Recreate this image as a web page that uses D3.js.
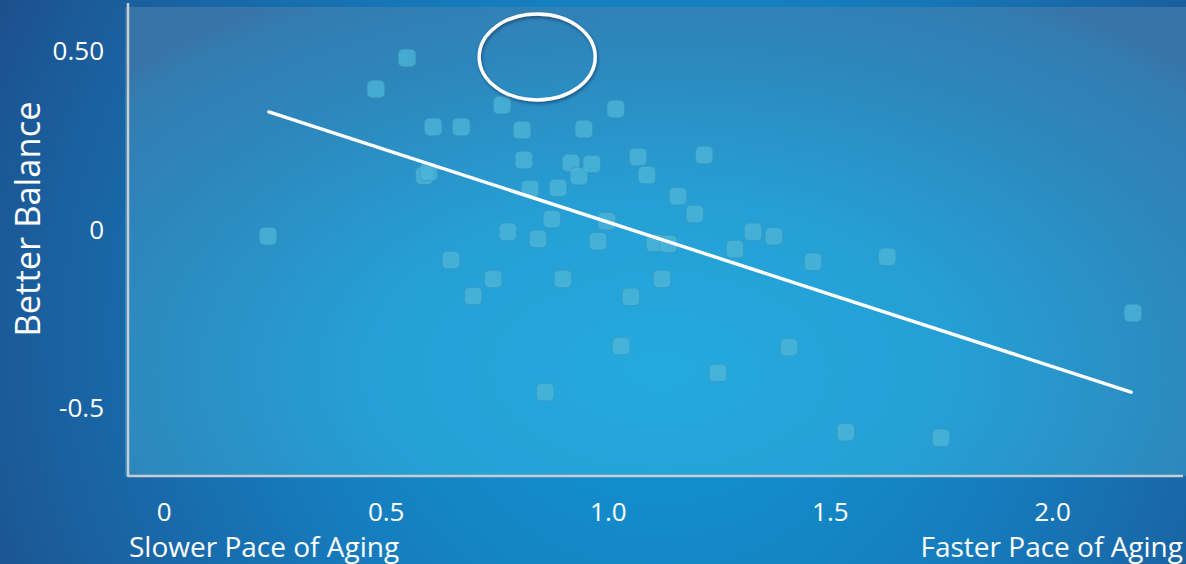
<!DOCTYPE html>
<html>
<head>
<meta charset="utf-8">
<script src="https://cdn.jsdelivr.net/npm/d3@7"></script>
<style>
  html, body { margin: 0; padding: 0; background: #1b5a97; }
  svg { display: block; }
  text { font-family: "Open Sans", "DejaVu Sans", sans-serif; fill: #ffffff; }
</style>
</head>
<body>
<svg id="chart" width="1186" height="564"></svg>
<script>
// Pace of aging (x) against balance score (y), one entry per participant
const paceOfAging = [
  0.235, 0.548, 0.478, 0.607, 0.670, 0.587, 0.597, 0.762, 0.807, 0.811,
  0.825, 0.775, 0.843, 0.647, 0.697, 0.742, 0.859, 0.874, 0.888, 0.917,
  0.935, 0.964, 0.899, 0.946, 1.018, 0.998, 0.978, 1.030, 1.068, 1.088,
  1.052, 1.106, 1.136, 1.122, 1.158, 1.196, 1.217, 1.248, 1.286, 1.327,
  1.374, 1.408, 1.462, 1.536, 1.629, 1.750, 2.182
];
const balanceScore = [
  -0.020, 0.479, 0.392, 0.286, 0.286, 0.149, 0.160, 0.347, 0.277, 0.193,
  0.112, -0.008, -0.028, -0.087, -0.188, -0.140, -0.457, 0.028, 0.115, 0.185,
  0.148, 0.182, -0.140, 0.280, 0.336, 0.022, -0.034, -0.328, 0.202, 0.151,
  -0.190, -0.039, -0.042, -0.140, 0.092, 0.042, 0.207, -0.403, -0.056, -0.008,
  -0.020, -0.331, -0.092, -0.569, -0.078, -0.585, -0.235
];

// Fitted trend line end points
const trendX = [0.237, 2.178];
const trendY = [0.328, -0.457];

// Axis ticks and their labels
const xTicks = [0, 0.5, 1.0, 1.5, 2.0];
const xTickLabels = ["0", "0.5", "1.0", "1.5", "2.0"];
const yTicks = [0.5, 0, -0.5];
const yTickLabels = ["0.50", "0", "-0.5"];

// Highlighted (empty) region
const highlight = { x: 0.841, y: 0.482 };

const svg = d3.select("#chart");
const W = 1186, H = 564;
const plot = { left: 128, right: 1183, top: 7, bottom: 476 };

const x = d3.scaleLinear().domain([0, 2]).range([163.6, 1052]);
const y = d3.scaleLinear().domain([-0.5, 0.5]).range([407.5, 50.5]);

// Background gradients
const defs = svg.append("defs");
const bg = defs.append("radialGradient").attr("id", "bg")
  .attr("gradientUnits", "userSpaceOnUse")
  .attr("cx", 660).attr("cy", 330).attr("r", 760);
bg.append("stop").attr("offset", 0).attr("stop-color", "#1199d6");
bg.append("stop").attr("offset", 0.45).attr("stop-color", "#157fc0");
bg.append("stop").attr("offset", 0.85).attr("stop-color", "#1b5c9b");
bg.append("stop").attr("offset", 1).attr("stop-color", "#1c4c88");

// Panel shading: elliptical glow, brighter in the lower middle
const panel = defs.append("radialGradient").attr("id", "panel")
  .attr("gradientUnits", "userSpaceOnUse")
  .attr("cx", 0).attr("cy", 0).attr("r", 1)
  .attr("gradientTransform", "translate(660,370) scale(740,430)");
panel.append("stop").attr("offset", 0).attr("stop-color", "#24aadd");
panel.append("stop").attr("offset", 0.4).attr("stop-color", "#259fd5");
panel.append("stop").attr("offset", 0.75).attr("stop-color", "#2d87bc");
panel.append("stop").attr("offset", 0.95).attr("stop-color", "#337cb1");
panel.append("stop").attr("offset", 1).attr("stop-color", "#3874a8");

const shadow = defs.append("filter").attr("id", "shadow")
  .attr("x", "-20%").attr("y", "-20%").attr("width", "140%").attr("height", "140%");
shadow.append("feDropShadow").attr("dx", 1).attr("dy", 2).attr("stdDeviation", 1.5)
  .attr("flood-color", "#0a2f55").attr("flood-opacity", 0.6);

svg.append("rect").attr("width", W).attr("height", H).attr("fill", "url(#bg)");

// Plot panel
svg.append("rect")
  .attr("x", plot.left - 3).attr("y", plot.top)
  .attr("width", W - plot.left + 3).attr("height", plot.bottom - plot.top)
  .attr("fill", "url(#panel)");

// Axis lines
svg.append("line").attr("x1", plot.left).attr("x2", plot.left)
  .attr("y1", 3).attr("y2", plot.bottom + 1)
  .attr("stroke", "#c9ccd0").attr("stroke-width", 2.5);
svg.append("line").attr("x1", plot.left).attr("x2", plot.right)
  .attr("y1", plot.bottom).attr("y2", plot.bottom)
  .attr("stroke", "#c9ccd0").attr("stroke-width", 2.5);

// X tick labels
const xAxis = d3.axisBottom(x).tickValues(xTicks)
  .tickFormat((d, i) => xTickLabels[i]).tickSize(0).tickPadding(0);
const gx = svg.append("g").attr("transform", `translate(0, ${plot.bottom})`).call(xAxis);
gx.select(".domain").remove();
gx.selectAll("text").attr("y", 45).attr("dy", 0)
  .style("font-size", "26px").style("font-family", "'Open Sans', sans-serif").attr("fill", "#fff");

// Y tick labels
const yAxis = d3.axisLeft(y).tickValues(yTicks)
  .tickFormat((d, i) => yTickLabels[i]).tickSize(0).tickPadding(0);
const gy = svg.append("g").attr("transform", `translate(104, 0)`).call(yAxis);
gy.select(".domain").remove();
gy.selectAll("text").attr("x", 0).attr("dy", "0.35em")
  .style("font-size", "26px").style("font-family", "'Open Sans', sans-serif").attr("fill", "#fff");

// Axis titles
svg.append("text")
  .attr("transform", "translate(40, 219) rotate(-90)")
  .attr("text-anchor", "middle")
  .style("font-size", "34.5px")
  .text("Better Balance");
svg.append("text").attr("x", 129).attr("y", 557)
  .style("font-size", "28px").text("Slower Pace of Aging");
svg.append("text").attr("x", 1183).attr("y", 557).attr("text-anchor", "end")
  .style("font-size", "28px").text("Faster Pace of Aging");

// Data points as rounded squares
const pts = paceOfAging.map((v, i) => ({ x: v, y: balanceScore[i] }));
const size = 17.5;
svg.append("g").selectAll("rect").data(pts).join("rect")
  .attr("x", d => x(d.x) - size / 2)
  .attr("y", d => y(d.y) - size / 2)
  .attr("width", size).attr("height", size)
  .attr("rx", 5).attr("ry", 5)
  .attr("fill", "#4fb6d8").attr("fill-opacity", 0.75)
  .attr("stroke", "#3b93b8").attr("stroke-opacity", 0.6).attr("stroke-width", 1);

// Trend line
svg.append("line")
  .attr("x1", x(trendX[0])).attr("y1", y(trendY[0]))
  .attr("x2", x(trendX[1])).attr("y2", y(trendY[1]))
  .attr("stroke", "#ffffff").attr("stroke-width", 3.4).attr("stroke-linecap", "round");

// Highlight ellipse
svg.append("ellipse")
  .attr("cx", x(highlight.x)).attr("cy", y(highlight.y))
  .attr("rx", 58).attr("ry", 43)
  .attr("fill", "none").attr("stroke", "#ffffff").attr("stroke-width", 3.4)
  .attr("filter", "url(#shadow)");
</script>
</body>
</html>
